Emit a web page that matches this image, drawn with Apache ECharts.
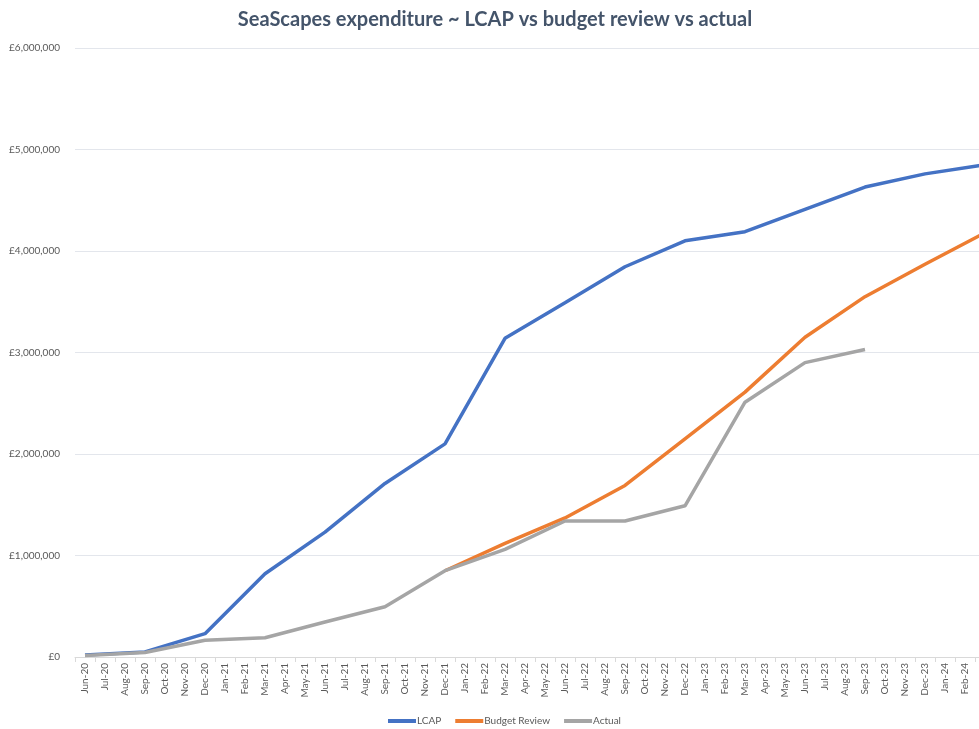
<!DOCTYPE html>
<html>
<head>
<meta charset="utf-8">
<script src="https://cdn.jsdelivr.net/npm/echarts@6/dist/echarts.min.js"></script>
<style>
  html, body { margin: 0; padding: 0; background: #ffffff; overflow: hidden; width: 979px; height: 729px; }
  /* The chart is wider than the window: the last month (Mar-24) is cropped off the right edge, as in the reference */
  #chart { width: 995px; height: 729px; }
</style>
</head>
<body>
<div id="chart"></div>
<script>
// Monthly category labels (the last one, Mar-24, is cropped off the right edge)
const months = [
  'Jun-20','Jul-20','Aug-20','Sep-20','Oct-20','Nov-20','Dec-20',
  'Jan-21','Feb-21','Mar-21','Apr-21','May-21','Jun-21','Jul-21','Aug-21','Sep-21','Oct-21','Nov-21','Dec-21',
  'Jan-22','Feb-22','Mar-22','Apr-22','May-22','Jun-22','Jul-22','Aug-22','Sep-22','Oct-22','Nov-22','Dec-22',
  'Jan-23','Feb-23','Mar-23','Apr-23','May-23','Jun-23','Jul-23','Aug-23','Sep-23','Oct-23','Nov-23','Dec-23',
  'Jan-24','Feb-24','Mar-24'
];

// Quarterly data points
const lcapQuarters = ['Jun-20','Sep-20','Dec-20','Mar-21','Jun-21','Sep-21','Dec-21','Mar-22','Jun-22','Sep-22','Dec-22','Mar-23','Jun-23','Sep-23','Dec-23','Mar-24'];
const lcapValues   = [20000, 50000, 230000, 820000, 1230000, 1710000, 2100000, 3140000, 3490000, 3845000, 4100000, 4190000, 4410000, 4630000, 4760000, 4850000];

const budgetQuarters = ['Dec-21','Mar-22','Jun-22','Sep-22','Dec-22','Mar-23','Jun-23','Sep-23','Dec-23','Mar-24'];
const budgetValues   = [850000, 1120000, 1370000, 1690000, 2150000, 2610000, 3150000, 3550000, 3870000, 4180000];

const actualQuarters = ['Jun-20','Sep-20','Dec-20','Mar-21','Jun-21','Sep-21','Dec-21','Mar-22','Jun-22','Sep-22','Dec-22','Mar-23','Jun-23','Sep-23'];
const actualValues   = [15000, 45000, 165000, 190000, 345000, 495000, 850000, 1060000, 1340000, 1340000, 1490000, 2510000, 2900000, 3030000];

const yTicks = [0, 1000000, 2000000, 3000000, 4000000, 5000000, 6000000];

const pair = (qs, vs) => qs.map((q, i) => [q, vs[i]]);
const fmt = v => '£' + Number(v).toLocaleString('en-GB');

const FONT = 'Lato';
const chart = echarts.init(document.getElementById('chart'));
chart.setOption({
  backgroundColor: '#ffffff',
  animation: false,
  title: {
    text: 'SeaScapes expenditure ~ LCAP vs budget review vs actual',
    left: 490,
    textAlign: 'center',
    top: 5,
    textStyle: { fontFamily: FONT, fontSize: 20, fontWeight: 'bold', color: '#44546A' }
  },
  legend: {
    top: 711,
    left: 383,
    icon: 'rect',
    itemWidth: 28,
    itemHeight: 4,
    itemGap: 14,
    textStyle: { fontFamily: FONT, fontSize: 10, color: '#595959', padding: [0, 0, 0, -4] },
    data: ['LCAP', 'Budget Review', 'Actual']
  },
  grid: { left: 75, right: 0, top: 48, bottom: 72, containLabel: false },
  xAxis: {
    type: 'category',
    data: months,
    boundaryGap: true,
    axisLine: { lineStyle: { color: '#D9D9D9', width: 1 } },
    axisTick: { show: true, length: 5, lineStyle: { color: '#D9D9D9' } },
    axisLabel: { interval: 0, rotate: 90, fontFamily: FONT, fontSize: 10, color: '#595959', margin: 6 },
    splitLine: { show: false }
  },
  yAxis: {
    type: 'value',
    min: yTicks[0],
    max: yTicks[yTicks.length - 1],
    interval: 1000000,
    axisLine: { show: false },
    axisTick: { show: false },
    axisLabel: { formatter: fmt, fontFamily: FONT, fontSize: 10, color: '#595959', margin: 15 },
    splitLine: { lineStyle: { color: '#E3E6EC', width: 1 } }
  },
  series: [
    {
      name: 'LCAP', type: 'line', data: pair(lcapQuarters, lcapValues),
      symbol: 'none', connectNulls: true,
      lineStyle: { color: '#4472C4', width: 3.5 }, itemStyle: { color: '#4472C4' }
    },
    {
      name: 'Budget Review', type: 'line', data: pair(budgetQuarters, budgetValues),
      symbol: 'none', connectNulls: true,
      lineStyle: { color: '#ED7D31', width: 3.5 }, itemStyle: { color: '#ED7D31' }
    },
    {
      name: 'Actual', type: 'line', data: pair(actualQuarters, actualValues),
      symbol: 'none', connectNulls: true,
      lineStyle: { color: '#A5A5A5', width: 3.5 }, itemStyle: { color: '#A5A5A5' }
    }
  ]
});
</script>
</body>
</html>
